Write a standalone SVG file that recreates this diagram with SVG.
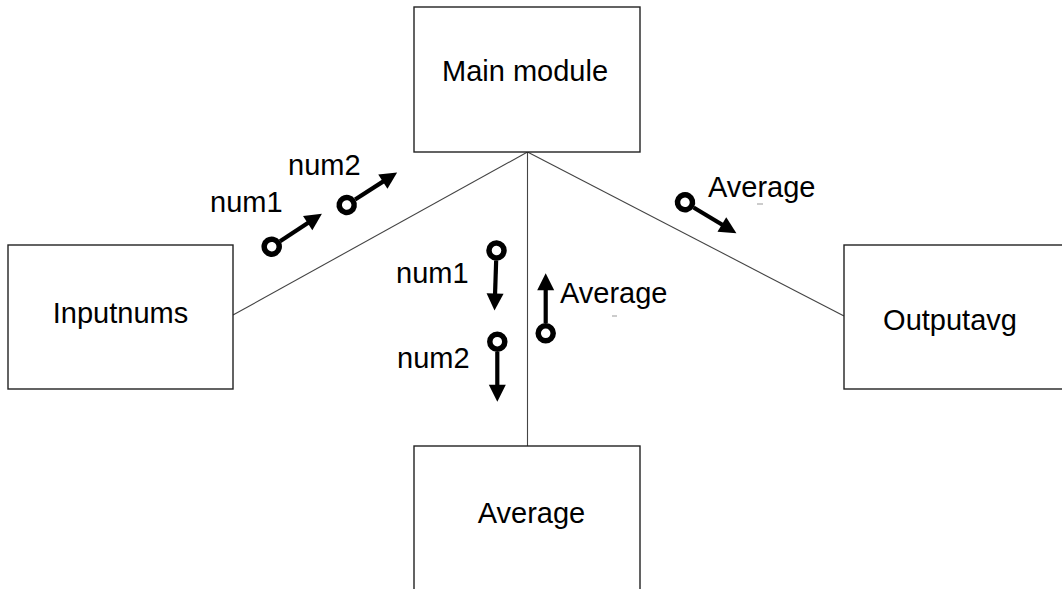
<svg xmlns="http://www.w3.org/2000/svg" xmlns:xlink="http://www.w3.org/1999/xlink" width="1062" height="589" viewBox="0 0 1062 589">
<style>
.box{fill:#fff;stroke:#222;stroke-width:1.4}
.lbl{font-family:"Liberation Sans",Arial,sans-serif;font-size:29px;fill:#000}
.conn{stroke:#444;stroke-width:1.1;fill:none}
</style>
<defs>
<g id="couple">
<circle cx="0" cy="0" r="7.5" fill="none" stroke="#000" stroke-width="5.5"/>
<line x1="10" y1="0" x2="45" y2="0" stroke="#000" stroke-width="4.2"/>
<polygon points="60,0 43,-8.5 43,8.5" fill="#000"/>
</g>
</defs>
<rect width="1062" height="589" fill="#fff"/>
<g id="connectors">
<line class="conn" x1="527.5" y1="152" x2="233" y2="315"/>
<line class="conn" x1="527.5" y1="152" x2="527.5" y2="446"/>
<line class="conn" x1="527.5" y1="152" x2="844" y2="316"/>
</g>
<g id="main-module">
<rect class="box" x="414" y="7" width="226" height="145"/>
<text class="lbl" x="525" y="81" text-anchor="middle">Main module</text>
</g>
<g id="inputnums">
<rect class="box" x="8" y="245" width="225" height="144"/>
<text class="lbl" x="120.5" y="323" text-anchor="middle">Inputnums</text>
</g>
<g id="outputavg">
<rect class="box" x="844" y="245" width="230" height="144"/>
<text class="lbl" x="950" y="330" text-anchor="middle">Outputavg</text>
</g>
<g id="average">
<rect class="box" x="414" y="446" width="226" height="160"/>
<text class="lbl" x="531.5" y="523" text-anchor="middle">Average</text>
</g>
<g id="couples">
<use xlink:href="#couple" transform="translate(271.7,246.7) rotate(-33.2)"/>
<text class="lbl" x="210" y="212">num1</text>
<use xlink:href="#couple" transform="translate(346.7,205) rotate(-32.8)"/>
<text class="lbl" x="288" y="175">num2</text>
<use xlink:href="#couple" transform="translate(496.5,250.5) rotate(91.9)"/>
<text class="lbl" x="396" y="283">num1</text>
<use xlink:href="#couple" transform="translate(497.3,341.7) rotate(90)"/>
<text class="lbl" x="397" y="368">num2</text>
<use xlink:href="#couple" transform="translate(545.7,333.3) rotate(-90)"/>
<text class="lbl" x="560" y="303">Average</text>
<line x1="612" y1="316" x2="617" y2="316" stroke="#999" stroke-width="1"/>
<use xlink:href="#couple" transform="translate(685,202.3) rotate(31)"/>
<text class="lbl" x="708" y="197">Average</text>
<line x1="757" y1="204" x2="763" y2="204" stroke="#999" stroke-width="1"/>
</g>
</svg>
